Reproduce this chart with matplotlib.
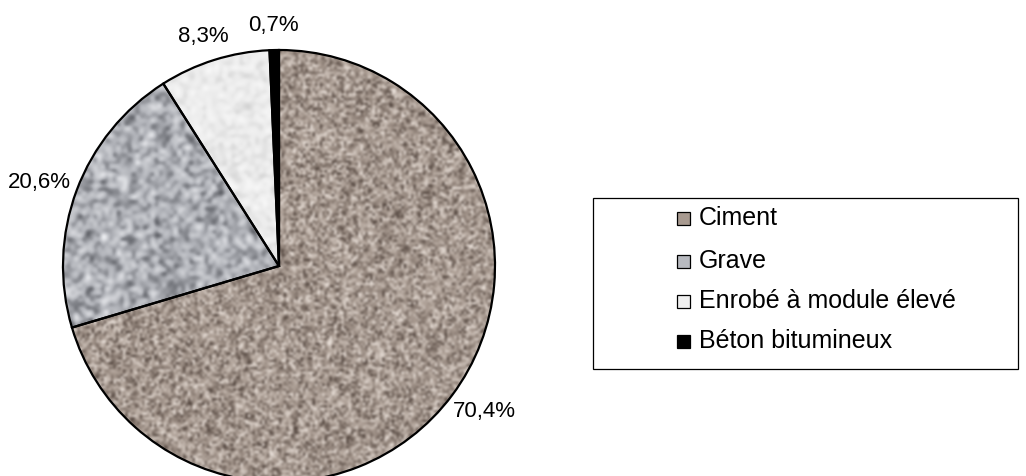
import numpy as np
import matplotlib
matplotlib.use("Agg")
import matplotlib.pyplot as plt
from matplotlib.colors import LinearSegmentedColormap
from matplotlib.patches import Rectangle

plt.rcParams['font.family'] = ['Liberation Sans', 'DejaVu Sans']

categories = ["Ciment", "Grave", "Enrobé à module élevé", "Béton bitumineux"]
shares = [70.4, 20.6, 8.3, 0.7]
pct_labels = ["70,4%", "20,6%", "8,3%", "0,7%"]

# texture palettes: (dark, mid, light) per material, None for solid fill
palettes = [
    ("#4e413a", "#a89a90", "#ece3dc"),
    ("#55575d", "#b0b2b8", "#f0f1f4"),
    ("#d0d0d0", "#ececec", "#fcfcfc"),
    None,
]
grains = [2.4, 3.8, 4.0, None]
legend_colors = ["#a89a90", "#b8bac0", "#efefef", "#000000"]

W, H = 1026, 477
fig = plt.figure(figsize=(W / 100, H / 100), dpi=100)
fig.patch.set_facecolor("white")

cx, cy, r = 279, 267, 216
ax = fig.add_axes([(cx - r) / W, (H - cy - r) / H, 2 * r / W, 2 * r / H])

wedges, _ = ax.pie(shares, startangle=90, counterclock=False, radius=1,
                   colors=["none"] * 4,
                   wedgeprops=dict(edgecolor="black", linewidth=1.6))

rng = np.random.default_rng(7)
for i, (w, pal, g) in enumerate(zip(wedges, palettes, grains)):
    if pal is None:
        w.set_facecolor("black")
        continue
    n = int(2 * r / g)
    noise = rng.random((n, n)) + rng.random((n, n)) + rng.random((n, n))
    noise = (noise - noise.min()) / (noise.max() - noise.min())
    cmap = LinearSegmentedColormap.from_list(f"tex{i}", list(pal))
    im = ax.imshow(noise, cmap=cmap, extent=(-1, 1, -1, 1),
                   interpolation="bicubic", zorder=0.5, vmin=0.15, vmax=0.85)
    im.set_clip_path(w)
ax.set_xlim(-1, 1)
ax.set_ylim(-1, 1)
ax.set_aspect("equal")
ax.axis("off")

# percentage labels: pushed outward from the rim by part of their size
total = sum(shares)
start = 90.0
texts, angles = [], []
for val, lab in zip(shares, pct_labels):
    mid = np.deg2rad(start - 360 * val / total / 2)
    start -= 360 * val / total
    d = 1.07
    t = ax.text(d * np.cos(mid), d * np.sin(mid), lab, ha="center",
                va="center", fontsize=16, clip_on=False)
    texts.append(t)
    angles.append(mid)
fig.canvas.draw()
renderer = fig.canvas.get_renderer()
for t, a in zip(texts, angles):
    bb = t.get_window_extent(renderer)
    x, y = t.get_position()
    t.set_position((x + np.cos(a) * bb.width * 0.4 / r,
                    y + np.sin(a) * bb.height / 2 / r))

# legend box with square markers
box_l, box_t, box_r, box_b = 593, 199, 1018, 370
fig.add_artist(Rectangle((box_l / W, 1 - box_b / H), (box_r - box_l) / W,
                         (box_b - box_t) / H, transform=fig.transFigure,
                         facecolor="white", edgecolor="black", linewidth=0.9))
row_y = [218, 261, 301, 341]
for yy, col, name in zip(row_y, legend_colors, categories):
    fig.add_artist(Rectangle((677 / W, 1 - (yy + 8) / H), 13 / W, 13 / H,
                             transform=fig.transFigure, facecolor=col,
                             edgecolor="black", linewidth=0.9))
    fig.text(699 / W, 1 - yy / H, name, ha="left", va="center", fontsize=18)

fig.savefig("out.png", dpi=100)
